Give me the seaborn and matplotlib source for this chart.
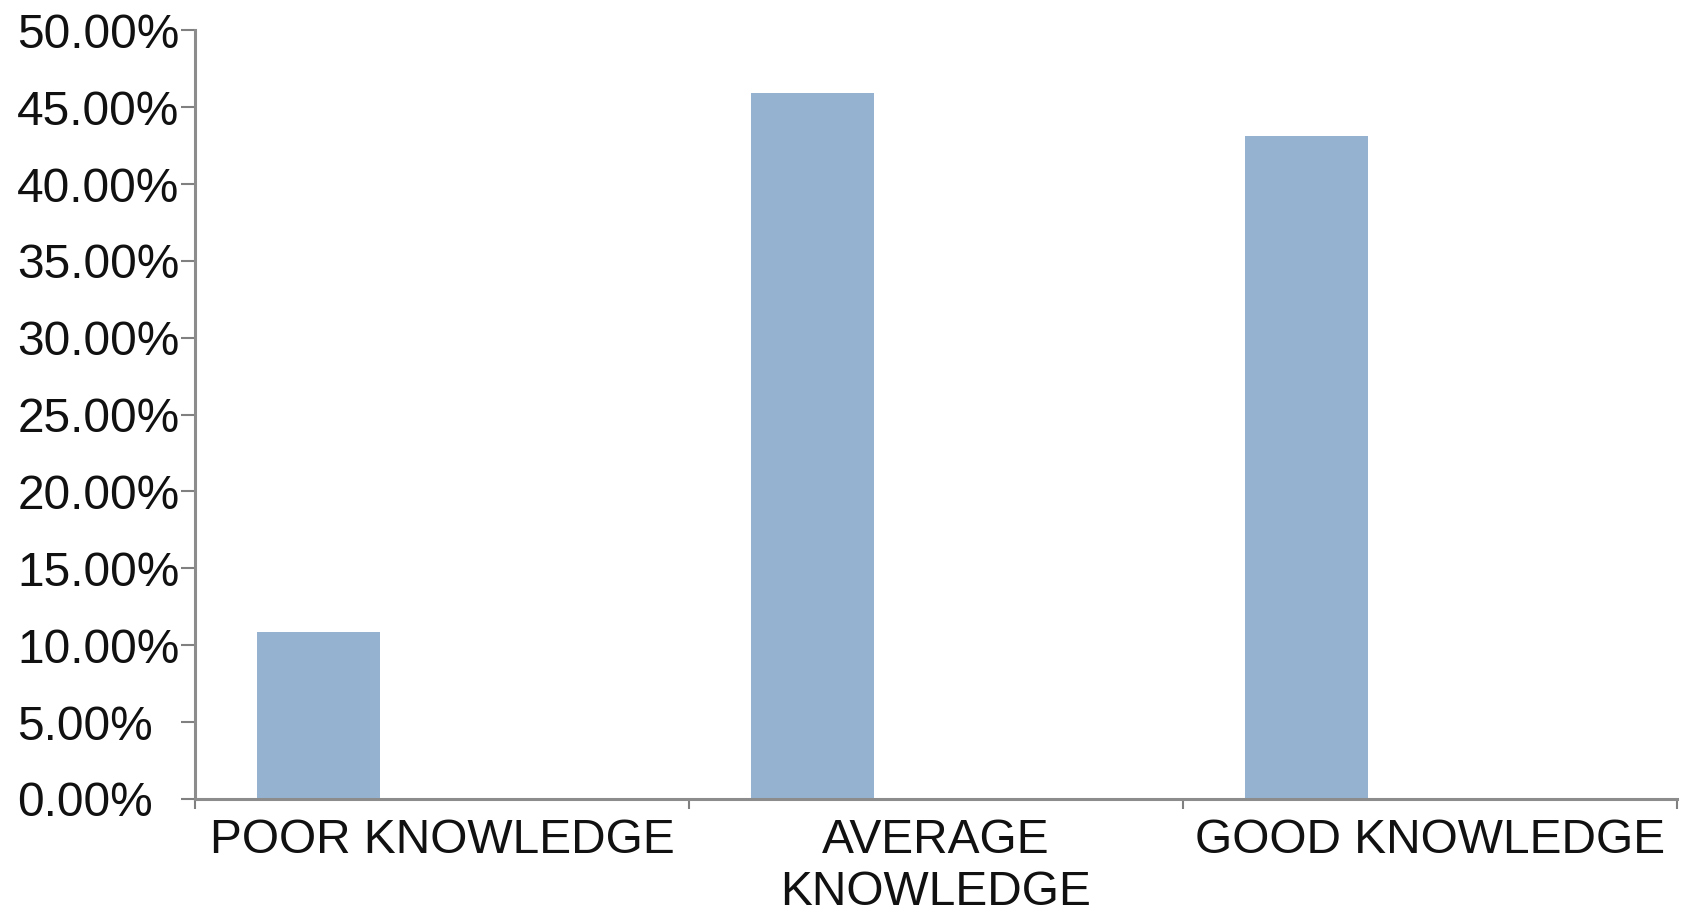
import matplotlib
matplotlib.use("Agg")
import matplotlib.pyplot as plt
import seaborn as sns
import pandas as pd
import numpy as np
from matplotlib.ticker import PercentFormatter, FixedLocator

categories = ["POOR KNOWLEDGE", "AVERAGE\nKNOWLEDGE", "GOOD KNOWLEDGE"]
values = [10.85, 45.9, 43.1]
series = ["Series1", "Series2", "Series3"]

df = pd.DataFrame({
    "category": categories,
    "series": [series[0]] * len(categories),
    "value": values,
})

sns.set_theme(style="white")
plt.rcParams["font.family"] = ["Liberation Sans", "DejaVu Sans"]

fig = plt.figure(figsize=(16.88, 9.17), dpi=100)
ax = fig.add_axes([0.1155, 0.1287, 0.9935 - 0.1155, 0.967 - 0.1287])

sns.barplot(data=df, x="category", y="value", hue="series", hue_order=series,
            order=categories, palette=["#95b3d1", "#c0504d", "#9bbb59"],
            width=0.75, dodge=True, legend=False, ax=ax, saturation=1,
            linewidth=0, errorbar=None)

ax.set_xlim(-0.5, len(categories) - 0.5)
ax.set_ylim(0, 50)
ax.set_yticks(np.arange(0, 50.1, 5))
ax.yaxis.set_major_formatter(PercentFormatter(xmax=100, decimals=2))
ax.set_xlabel("")
ax.set_ylabel("")

# x: boundary ticks (major, no labels), centered labels (minor, no ticks)
ax.xaxis.set_major_locator(FixedLocator(np.arange(-0.5, len(categories), 1.0)))
ax.xaxis.set_minor_locator(FixedLocator(np.arange(len(categories))))
ax.set_xticklabels([], minor=False)
ax.set_xticklabels(categories, minor=True)
ax.tick_params(axis="x", which="major", direction="out", length=7, width=1.5,
               color="#808080", bottom=True)
ax.tick_params(axis="x", which="minor", length=0, pad=14, labelsize=34.5,
               labelcolor="#111111", bottom=True)
for lbl in ax.get_xticklabels(minor=True):
    lbl.set_linespacing(1.18)

ax.tick_params(axis="y", which="major", direction="out", length=10, width=1.5,
               color="#808080", left=True, labelsize=34.5, labelcolor="#111111", pad=118)
for lbl in ax.get_yticklabels():
    lbl.set_horizontalalignment("left")

for side in ["top", "right"]:
    ax.spines[side].set_visible(False)
for side in ["left", "bottom"]:
    ax.spines[side].set_color("#8c8c8c")
    ax.spines[side].set_linewidth(2.2)

fig.savefig("out.png", dpi=100, facecolor="white")
